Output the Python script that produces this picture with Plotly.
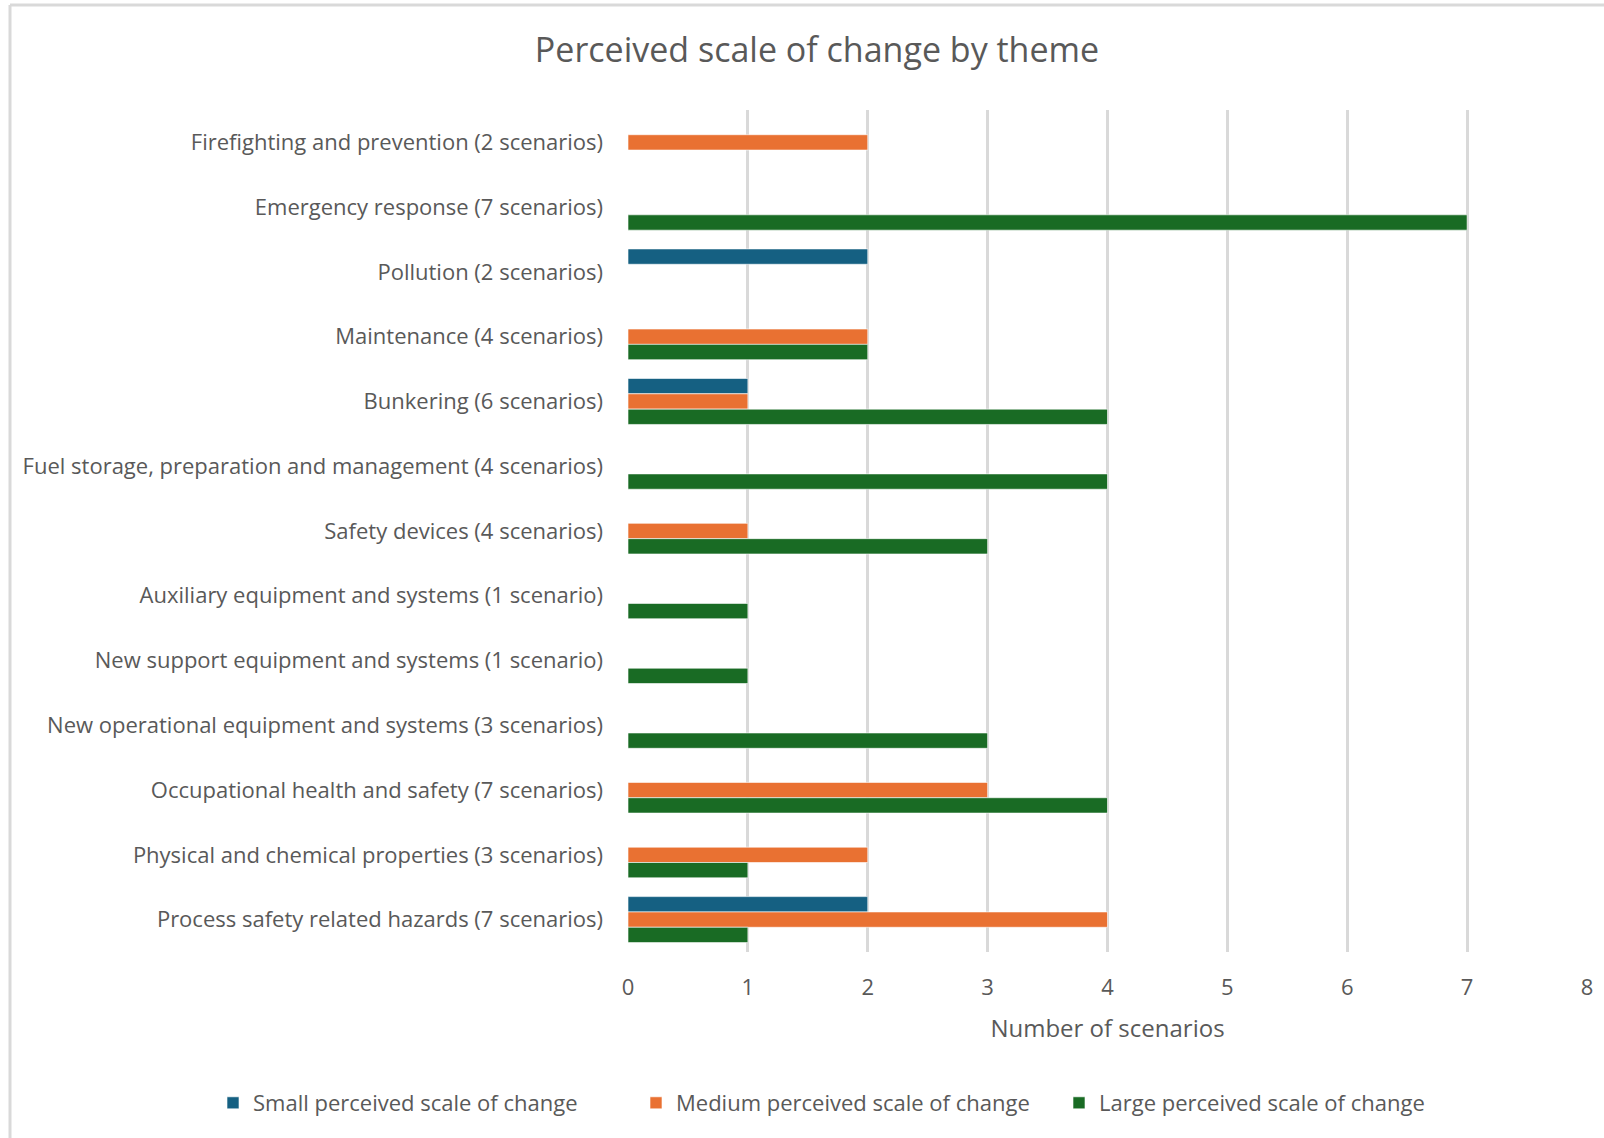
import plotly.graph_objects as go

categories = [
    "Firefighting and prevention (2 scenarios)",
    "Emergency response (7 scenarios)",
    "Pollution (2 scenarios)",
    "Maintenance (4 scenarios)",
    "Bunkering (6 scenarios)",
    "Fuel storage, preparation and management (4 scenarios)",
    "Safety devices (4 scenarios)",
    "Auxiliary equipment and systems (1 scenario)",
    "New support equipment and systems (1 scenario)",
    "New operational equipment and systems (3 scenarios)",
    "Occupational health and safety (7 scenarios)",
    "Physical and chemical properties (3 scenarios)",
    "Process safety related hazards (7 scenarios)",
]
small = [0, 0, 2, 0, 1, 0, 0, 0, 0, 0, 0, 0, 2]
medium = [2, 0, 0, 2, 1, 0, 1, 0, 0, 0, 3, 2, 4]
large = [0, 7, 0, 2, 4, 4, 3, 1, 1, 3, 4, 1, 1]
series_names = [
    "Small perceived scale of change",
    "Medium perceived scale of change",
    "Large perceived scale of change",
]
colors = ["#156082", "#E97132", "#196B24"]
x_ticks = [0, 1, 2, 3, 4, 5, 6, 7, 8]

FONT = "Open Sans"
TXT = "#595959"

fig = go.Figure()
for name, vals, col in zip(series_names, [small, medium, large], colors):
    fig.add_trace(go.Bar(
        y=categories, x=vals, name=name, orientation="h",
        marker=dict(color=col, line=dict(color="rgba(255,255,255,0.6)", width=1)),
    ))

W, H = 1604, 1138
L, R, T, B = 628, 17, 110, 186
pw, ph = W - L - R, H - T - B

fig.update_layout(
    width=W, height=H,
    margin=dict(l=L, r=R, t=T, b=B),
    barmode="group", bargap=0.29, bargroupgap=0,
    plot_bgcolor="white", paper_bgcolor="white",
    font=dict(family=FONT, size=20, color=TXT),
    title=dict(text="Perceived scale of change by theme", x=817 / W, xref="container",
               y=1 - 50 / H, yref="container", xanchor="center", yanchor="middle",
               font=dict(family=FONT, size=34, color=TXT)),
    legend=dict(orientation="h", xref="paper", x=(213 - L) / pw, xanchor="left",
                yref="paper", y=-(1103 - (H - B)) / ph, yanchor="middle",
                font=dict(family=FONT, size=22, color=TXT),
                entrywidth=378, itemwidth=30, traceorder="normal"),
    xaxis=dict(range=[0, 8], tickvals=x_ticks, showgrid=True, gridcolor="#d9d9d9",
               gridwidth=2.5, zeroline=False, showline=False,
               ticks="", ticklabelstandoff=20,
               tickfont=dict(family=FONT, size=22, color=TXT),
               title=dict(text="Number of scenarios", standoff=20,
                          font=dict(family=FONT, size=24, color=TXT))),
    yaxis=dict(autorange="reversed", showgrid=False, zeroline=False, showline=False,
               ticks="", ticklabelstandoff=24,
               tickfont=dict(family=FONT, size=22, color=TXT)),
    shapes=[
        dict(type="line", xref="paper", yref="paper",
             x0=(10 - L) / pw, x1=(W + 20 - L) / pw,
             y0=1 + (T - 5) / ph, y1=1 + (T - 5) / ph,
             line=dict(color="#d9d9d9", width=3)),
        dict(type="line", xref="paper", yref="paper",
             x0=(10 - L) / pw, x1=(10 - L) / pw,
             y0=1 + (T - 5) / ph, y1=-(B + 20) / ph,
             line=dict(color="#d9d9d9", width=3)),
    ],
)

fig.write_html("out.html")
